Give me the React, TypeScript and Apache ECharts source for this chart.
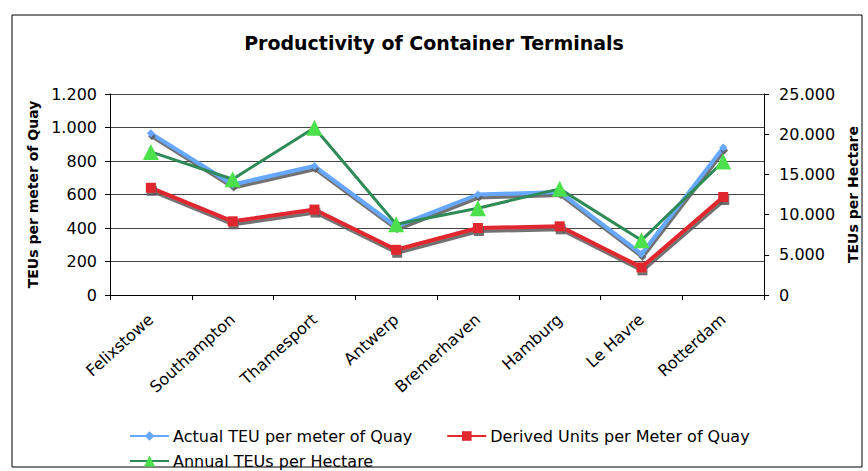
import React, { useEffect, useRef } from "react";
import * as echarts from "echarts";

const categories = ["Felixstowe", "Southampton", "Thamesport", "Antwerp", "Bremerhaven", "Hamburg", "Le Havre", "Rotterdam"];
const actualTeuPerMeter = [965, 660, 770, 410, 600, 615, 245, 880];
const derivedUnitsPerMeter = [640, 440, 510, 270, 400, 410, 165, 585];
const annualTeuPerHectare = [17800, 14400, 20800, 8800, 10800, 13200, 6800, 16600];
const leftTicks = { min: 0, max: 1200, interval: 200 };
const rightTicks = { min: 0, max: 25000, interval: 5000 };

const FONT = "'DejaVu Sans', Verdana, sans-serif";
const fmt = (v: number) => String(v).replace(/\B(?=(\d{3})+(?!\d))/g, ".");

export default function App() {
  const ref = useRef<HTMLDivElement>(null);
  useEffect(() => {
    if (!ref.current) return;
    const chart = echarts.init(ref.current, null, { renderer: "svg" });
    const shadow = { shadowColor: "rgba(90,90,90,0.85)", shadowBlur: 0, shadowOffsetX: 1, shadowOffsetY: 3 };
    chart.setOption({
      animation: false,
      backgroundColor: "#ffffff",
      textStyle: { fontFamily: FONT },
      title: {
        text: "Productivity of Container Terminals",
        left: "center",
        top: 28,
        textStyle: { fontFamily: FONT, fontSize: 19, fontWeight: "bold", color: "#000" },
      },
      graphic: [
        { type: "rect", shape: { x: 12, y: 15, width: 850, height: 452 }, style: { fill: "none", stroke: "#000", lineWidth: 1 }, silent: true },
      ],
      legend: [
        {
          data: ["Actual TEU per meter of Quay", "Derived Units per Meter of Quay"],
          left: 124,
          top: 423,
          itemWidth: 39,
          itemHeight: 12,
          itemGap: 34,
          textStyle: { fontFamily: FONT, fontSize: 16, color: "#000", padding: [0, 0, 0, -1] },
        },
        {
          data: ["Annual TEUs per Hectare"],
          left: 124,
          top: 448,
          itemWidth: 39,
          itemHeight: 14,
          textStyle: { fontFamily: FONT, fontSize: 16, color: "#000", padding: [0, 0, 0, -1] },
        },
      ],
      grid: { left: 110, right: 94, top: 94, bottom: 176 },
      xAxis: {
        type: "category",
        data: categories,
        boundaryGap: true,
        axisLine: { lineStyle: { color: "#000", width: 1 } },
        axisTick: { show: true, length: 5, lineStyle: { color: "#000" } },
        axisLabel: { rotate: 42, fontSize: 16, color: "#000", margin: 22, fontFamily: FONT },
      },
      yAxis: [
        {
          type: "value",
          ...leftTicks,
          name: "TEUs per meter of Quay",
          nameLocation: "middle",
          nameGap: 70,
          nameTextStyle: { fontFamily: FONT, fontSize: 14, fontWeight: "bold", color: "#000" },
          axisLine: { show: true, lineStyle: { color: "#000" } },
          axisTick: { show: true, length: 5, lineStyle: { color: "#000" } },
          axisLabel: { formatter: fmt, fontSize: 16, color: "#000", margin: 13, fontFamily: FONT },
          splitLine: { show: true, lineStyle: { color: "#444", width: 1 } },
        },
        {
          type: "value",
          ...rightTicks,
          name: "TEUs per Hectare",
          nameLocation: "middle",
          nameGap: 80,
          nameRotate: 90,
          nameTextStyle: { fontFamily: FONT, fontSize: 14, fontWeight: "bold", color: "#000" },
          position: "right",
          axisLine: { show: true, lineStyle: { color: "#000" } },
          axisTick: { show: true, length: 5, lineStyle: { color: "#000" } },
          axisLabel: { formatter: fmt, fontSize: 16, color: "#000", margin: 15, fontFamily: FONT },
          splitLine: { show: false },
        },
      ],
      series: [
        {
          name: "Actual TEU per meter of Quay",
          type: "line",
          yAxisIndex: 0,
          data: actualTeuPerMeter,
          symbol: "diamond",
          symbolSize: 8,
          lineStyle: { color: "#66A8FF", width: 4, ...shadow },
          itemStyle: { color: "#66A8FF", ...shadow },
          z: 3,
        },
        {
          name: "Derived Units per Meter of Quay",
          type: "line",
          yAxisIndex: 0,
          data: derivedUnitsPerMeter,
          symbol: "rect",
          symbolSize: 10,
          lineStyle: { color: "#E0282E", width: 4, ...shadow },
          itemStyle: { color: "#E0282E", ...shadow },
          z: 3,
        },
        {
          name: "Annual TEUs per Hectare",
          type: "line",
          yAxisIndex: 1,
          data: annualTeuPerHectare,
          symbol: "triangle",
          symbolSize: 16,
          lineStyle: { color: "#2E8B57", width: 3 },
          itemStyle: { color: "#4CE04C" },
          z: 4,
        },
      ],
    });
    return () => chart.dispose();
  }, []);
  return <div ref={ref} style={{ width: 868, height: 471, position: "absolute", left: 0, top: 0 }} />;
}
